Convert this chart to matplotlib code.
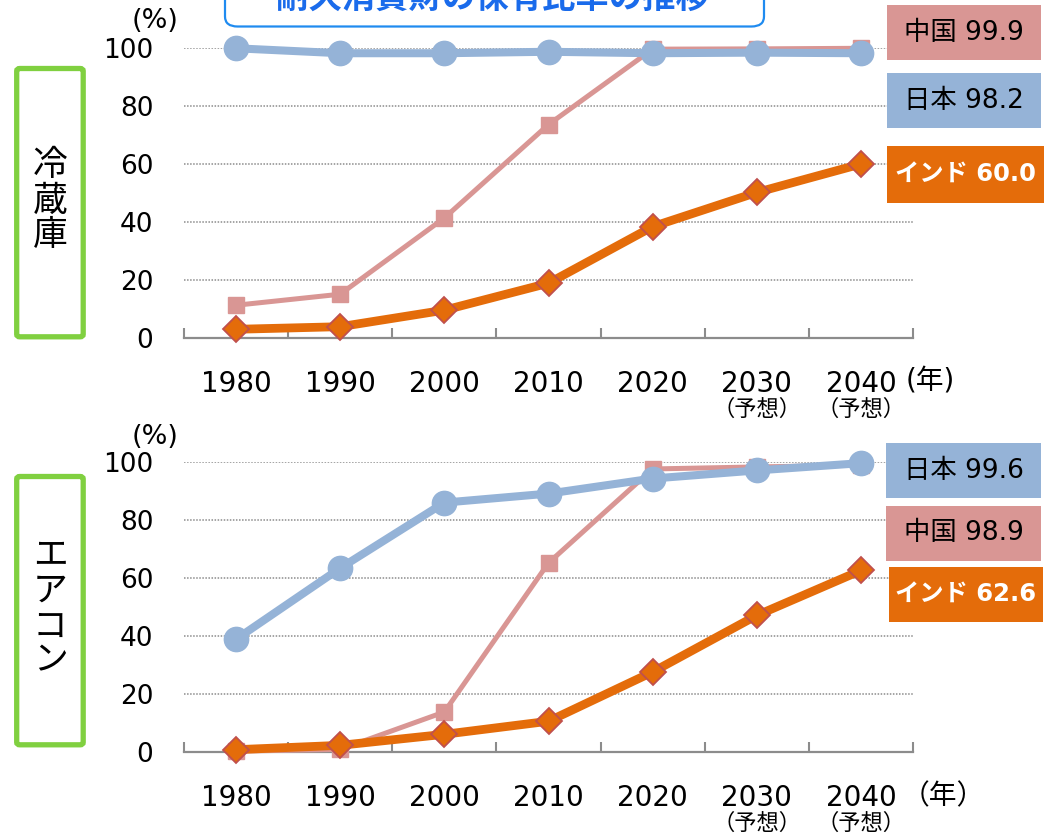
import matplotlib
matplotlib.use("Agg")
import matplotlib.pyplot as plt
from matplotlib.patches import Rectangle, FancyBboxPatch

plt.rcParams["font.family"] = ["DejaVu Sans", "Noto Sans CJK JP"]
plt.rcParams["axes.unicode_minus"] = False

# データ
years = ["1980", "1990", "2000", "2010", "2020", "2030", "2040"]
forecast_years = ["2030", "2040"]
yticks = [0, 20, 40, 60, 80, 100]

fridge_china = [11.3, 15.1, 41.4, 73.6, 99.6, 99.7, 99.9]
fridge_japan = [99.9, 98.2, 98.2, 98.7, 98.2, 98.4, 98.2]
fridge_india = [3.0, 3.9, 9.6, 18.9, 38.4, 50.2, 60.0]

ac_china = [0.3, 0.9, 13.8, 65.2, 97.6, 98.3, 98.9]
ac_japan = [38.9, 63.4, 86.0, 89.1, 94.3, 97.1, 99.6]
ac_india = [0.8, 2.3, 6.1, 10.6, 27.6, 47.1, 62.6]

C_CHINA = "#D99694"
C_JAPAN = "#95B3D7"
C_INDIA = "#E46C0A"
C_INDIA_EDGE = "#C0504D"
C_GRID = "#8C8C8C"
C_GREEN = "#80D040"

W, H = 1044, 835
fig = plt.figure(figsize=(W / 100, H / 100), dpi=100)
fig.patch.set_facecolor("white")


def px(x, y):
    # ピクセル(左上原点) -> figure座標
    return x / W, (H - y) / H


def panel(top_px, bottom_px, china, japan, india):
    x0, y0 = px(184, bottom_px)
    ax = fig.add_axes([x0, y0, (913 - 184) / W, (bottom_px - top_px) / H])
    xs = list(range(len(years)))
    ax.plot(xs, china, color=C_CHINA, lw=3.6, marker="s", ms=11.5,
            mec=C_CHINA, clip_on=False, zorder=3)
    ax.plot(xs, japan, color=C_JAPAN, lw=5.8, marker="o", ms=17.5,
            mec=C_JAPAN, clip_on=False, zorder=4)
    ax.plot(xs, india, color=C_INDIA, lw=6.3, marker="D", ms=13,
            mec=C_INDIA_EDGE, mew=1.3, clip_on=False, zorder=5)
    ax.set_xlim(-0.5, len(years) - 0.5)
    ax.set_ylim(0, 100)
    ax.set_yticks(yticks)
    ax.set_yticklabels([str(v) for v in yticks], fontsize=19)
    for v in yticks[1:]:
        ax.axhline(v, color=C_GRID, lw=1.1, ls=(0, (1, 1)), zorder=1)
    ax.set_xticks(xs)
    ax.set_xticklabels(years, fontsize=20)
    ax.set_xticks([i - 0.5 for i in range(len(years) + 1)], minor=True)
    ax.tick_params(axis="x", which="major", length=0, pad=23)
    ax.tick_params(axis="x", which="minor", direction="in", length=7.5,
                   width=1.5, color=C_GRID)
    ax.tick_params(axis="y", length=0, pad=22)
    for s in ["top", "right", "left"]:
        ax.spines[s].set_visible(False)
    ax.spines["bottom"].set_color(C_GRID)
    ax.spines["bottom"].set_linewidth(1.6)
    ax.set_facecolor("none")
    for yr in forecast_years:
        ax.text(years.index(yr), -0.245, "（予想）", transform=ax.get_xaxis_transform(),
                ha="center", va="center", fontsize=16, family="Noto Sans CJK JP")
    return ax


panel(48, 338, fridge_china, fridge_japan, fridge_india)
panel(462, 752, ac_china, ac_japan, ac_india)

# (%) / (年)
fig.text(*px(155, 21), "(%)", ha="center", va="center", fontsize=19.5)
fig.text(*px(155, 437), "(%)", ha="center", va="center", fontsize=19.5)
fig.text(*px(930, 381), "(年)", ha="center", va="center", fontsize=20)
fig.text(*px(943, 796), "（年）", ha="center", va="center", fontsize=20,
         family="Noto Sans CJK JP")

# 左の緑枠
for (x0, y0, x1, y1), chars, cy in [
    ((16.7, 68.5, 83.2, 336.8), "冷蔵庫", [166, 201, 235]),
    ((16.7, 476.5, 83.2, 744.8), "エアコン", [556, 591, 627, 661]),
]:
    fig.add_artist(FancyBboxPatch(px(x0, y1), (x1 - x0) / W, (y1 - y0) / H,
                                  boxstyle="round,pad=0,rounding_size=0.003",
                                  transform=fig.transFigure, fill=False,
                                  ec=C_GREEN, lw=3.8))
    for ch, y in zip(chars, cy):
        fig.text(*px(50, y), ch, ha="center", va="center", fontsize=25,
                 family="Noto Sans CJK JP")

# 右のラベル
labels = [
    (887, 5, 1041, 60, C_CHINA, "中国 99.9", "black", "normal", 19),
    (887, 73, 1041, 128, C_JAPAN, "日本 98.2", "black", "normal", 19),
    (887, 146, 1044, 203, C_INDIA, "インド 60.0", "white", "bold", 17.5),
    (886, 443, 1041, 498, C_JAPAN, "日本 99.6", "black", "normal", 19),
    (886, 506, 1041, 561, C_CHINA, "中国 98.9", "black", "normal", 19),
    (889, 567, 1043, 622, C_INDIA, "インド 62.6", "white", "bold", 17.5),
]
for x0, y0, x1, y1, fc, txt, tc, fw, fs in labels:
    fig.add_artist(Rectangle(px(x0, y1), (x1 - x0) / W, (y1 - y0) / H,
                             transform=fig.transFigure, fc=fc, ec="none", zorder=6))
    fig.text(*px((x0 + x1) / 2, (y0 + y1) / 2), txt, ha="center", va="center",
             fontsize=fs, color=tc, fontweight=fw, zorder=7)

# タイトル枠 (上端で切れている)
fig.add_artist(FancyBboxPatch(px(225, 26.5), (764 - 225) / W, 60 / H,
                              boxstyle="round,pad=0,rounding_size=0.012",
                              transform=fig.transFigure, fc="white",
                              ec="#1F8BF0", lw=1.6, zorder=6))
fig.text(*px(493, 8), "耐久消費財の保有比率の推移", ha="center", va="baseline",
         fontsize=24, fontweight="bold", color="#1A6BEB",
         family="Noto Sans CJK JP", zorder=7)

fig.savefig("out.png", dpi=100, facecolor="white")
